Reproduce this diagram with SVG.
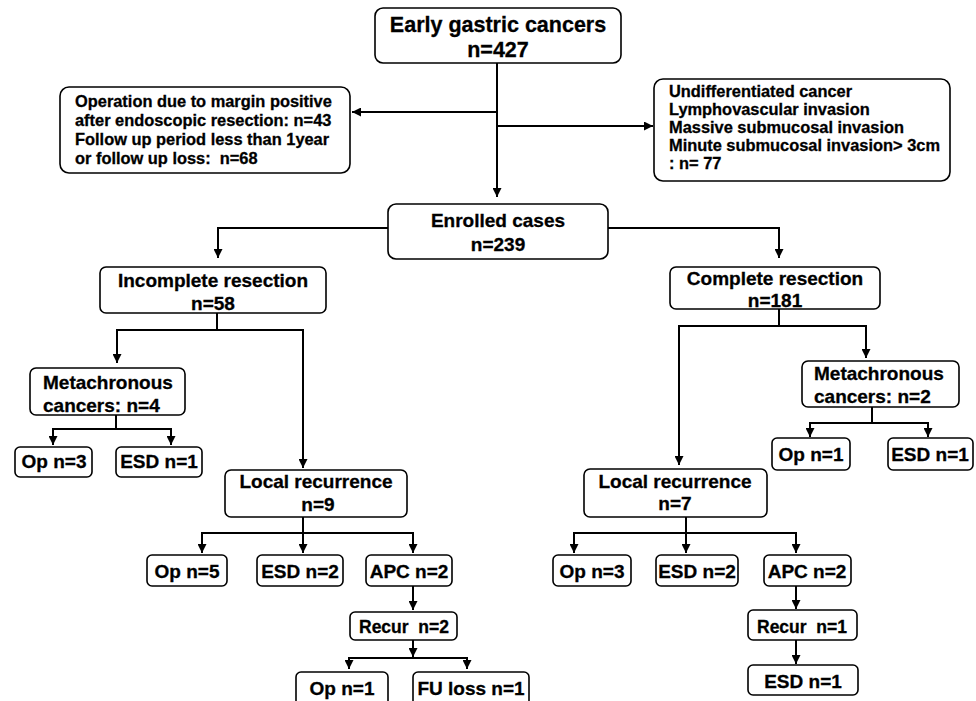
<svg xmlns="http://www.w3.org/2000/svg" width="976" height="701" viewBox="0 0 976 701">
<style>
.box{fill:#fff;stroke:#000;stroke-width:1.6}
.t{font-family:"Liberation Sans",Arial,sans-serif;font-weight:bold;fill:#000;stroke:#000;stroke-width:0.3}
.c{text-anchor:middle}
.s19{font-size:19px}
.s16{font-size:16.4px}
.ln{fill:none;stroke:#000;stroke-width:2}
</style>
<defs>
<marker id="ah" markerWidth="9" markerHeight="9" refX="9" refY="4.5" orient="auto" markerUnits="userSpaceOnUse">
<path d="M0,0 L9,4.5 L0,9 z" fill="#000"/>
</marker>
</defs>
<rect width="976" height="701" fill="#fff"/>

<g id="connectors">
<polyline class="ln" points="497,63 497,197" marker-end="url(#ah)"/>
<polyline class="ln" points="497,112 352,112" marker-end="url(#ah)"/>
<polyline class="ln" points="497,126 653,126" marker-end="url(#ah)"/>
<polyline class="ln" points="388,228 218,228 218,258" marker-end="url(#ah)"/>
<polyline class="ln" points="608,228 779,228 779,258" marker-end="url(#ah)"/>
<polyline class="ln" points="217,313 217,330"/>
<polyline class="ln" points="303,330 117,330 117,363" marker-end="url(#ah)"/>
<polyline class="ln" points="217,330 303,330 303,468" marker-end="url(#ah)"/>
<polyline class="ln" points="116,415 116,429"/>
<polyline class="ln" points="116,429 53,429 53,445" marker-end="url(#ah)"/>
<polyline class="ln" points="116,429 171,429 171,445" marker-end="url(#ah)"/>
<polyline class="ln" points="303,517 303,553" marker-end="url(#ah)"/>
<polyline class="ln" points="303,533 202,533 202,553" marker-end="url(#ah)"/>
<polyline class="ln" points="303,533 413,533 413,553" marker-end="url(#ah)"/>
<polyline class="ln" points="413,586 413,610" marker-end="url(#ah)"/>
<polyline class="ln" points="413,640 413,657" marker-end="url(#ah)"/>
<polyline class="ln" points="413,658 349,658 349,669" marker-end="url(#ah)"/>
<polyline class="ln" points="413,658 467,658 467,669" marker-end="url(#ah)"/>
<polyline class="ln" points="779,309 779,326"/>
<polyline class="ln" points="779,326 866,326 866,358" marker-end="url(#ah)"/>
<polyline class="ln" points="779,326 679,326 679,465" marker-end="url(#ah)"/>
<polyline class="ln" points="872,407 872,423"/>
<polyline class="ln" points="872,423 810,423 810,437" marker-end="url(#ah)"/>
<polyline class="ln" points="872,423 928,423 928,437" marker-end="url(#ah)"/>
<polyline class="ln" points="686,517 686,553" marker-end="url(#ah)"/>
<polyline class="ln" points="686,533 574,533 574,553" marker-end="url(#ah)"/>
<polyline class="ln" points="686,533 796,533 796,553" marker-end="url(#ah)"/>
<polyline class="ln" points="796,586 796,609" marker-end="url(#ah)"/>
<polyline class="ln" points="796,640 796,664" marker-end="url(#ah)"/>
</g>

<g id="n-early">
<rect class="box" x="375" y="8" width="246" height="55" rx="8"/>
<text class="t c" x="498" y="32" font-size="21.5">Early gastric cancers</text>
<text class="t c" x="498" y="57" font-size="21.5">n=427</text>
</g>

<g id="n-excl-left">
<rect class="box" x="60" y="87" width="290" height="86" rx="9"/>
<text class="t s16" x="75" y="107">Operation due to margin positive</text>
<text class="t s16" x="75" y="126">after endoscopic resection: n=43</text>
<text class="t s16" x="75" y="145">Follow up period less than 1year</text>
<text class="t s16" x="75" y="164" xml:space="preserve">or follow up loss:  n=68</text>
</g>

<g id="n-excl-right">
<rect class="box" x="654" y="79" width="296" height="102" rx="9"/>
<text class="t s16" x="669" y="97">Undifferentiated cancer</text>
<text class="t s16" x="669" y="115">Lymphovascular invasion</text>
<text class="t s16" x="669" y="133">Massive submucosal invasion</text>
<text class="t s16" x="669" y="151">Minute submucosal invasion&gt; 3cm</text>
<text class="t s16" x="669" y="169">: n= 77</text>
</g>

<g id="n-enrolled">
<rect class="box" x="388" y="204" width="220" height="55" rx="8"/>
<text class="t c s19" x="498" y="227">Enrolled cases</text>
<text class="t c s19" x="498" y="251">n=239</text>
</g>

<g id="n-incomplete">
<rect class="box" x="100" y="267" width="226" height="46" rx="6"/>
<text class="t c s19" x="213" y="287">Incomplete resection</text>
<text class="t c s19" x="213" y="310">n=58</text>
</g>

<g id="n-complete">
<rect class="box" x="670" y="267" width="210" height="42" rx="6"/>
<text class="t c s19" x="775" y="285">Complete resection</text>
<text class="t c s19" x="775" y="307">n=181</text>
</g>

<g id="n-meta-left">
<rect class="box" x="30" y="368" width="155" height="47" rx="6"/>
<text class="t s19" x="43" y="389">Metachronous</text>
<text class="t s19" x="43" y="412">cancers: n=4</text>
</g>

<g id="n-op3-left">
<rect class="box" x="15" y="447" width="77" height="30" rx="5"/>
<text class="t c s19" x="54" y="468">Op n=3</text>
</g>

<g id="n-esd1-left">
<rect class="box" x="116" y="447" width="86" height="30" rx="5"/>
<text class="t c s19" x="159" y="468">ESD n=1</text>
</g>

<g id="n-local-left">
<rect class="box" x="225" y="470" width="182" height="47" rx="6"/>
<text class="t c s19" x="316" y="488">Local recurrence</text>
<text class="t c s19" x="318" y="511">n=9</text>
</g>

<g id="n-op5">
<rect class="box" x="147" y="555" width="80" height="31" rx="5"/>
<text class="t c s19" x="187" y="578">Op n=5</text>
</g>

<g id="n-esd2-left">
<rect class="box" x="257" y="555" width="86" height="31" rx="5"/>
<text class="t c s19" x="300" y="578">ESD n=2</text>
</g>

<g id="n-apc2-left">
<rect class="box" x="366" y="555" width="86" height="31" rx="5"/>
<text class="t c s19" x="409" y="578">APC n=2</text>
</g>

<g id="n-recur2">
<rect class="box" x="350" y="612" width="107" height="28" rx="5"/>
<text class="t c" x="404" y="633" font-size="17.5" xml:space="preserve">Recur  n=2</text>
</g>

<g id="n-op1-bottom">
<rect class="box" x="296" y="672" width="92" height="40" rx="5"/>
<text class="t c s19" x="342" y="695">Op n=1</text>
</g>

<g id="n-fuloss">
<rect class="box" x="413" y="672" width="116" height="40" rx="5"/>
<text class="t c s19" x="471" y="695">FU loss n=1</text>
</g>

<g id="n-meta-right">
<rect class="box" x="802" y="361" width="157" height="46" rx="6"/>
<text class="t s19" x="814" y="380">Metachronous</text>
<text class="t s19" x="814" y="403">cancers: n=2</text>
</g>

<g id="n-op1-right">
<rect class="box" x="772" y="438" width="78" height="32" rx="5"/>
<text class="t c s19" x="811" y="461">Op n=1</text>
</g>

<g id="n-esd1-right">
<rect class="box" x="888" y="438" width="85" height="32" rx="5"/>
<text class="t c s19" x="930" y="461">ESD n=1</text>
</g>

<g id="n-local-right">
<rect class="box" x="584" y="469" width="183" height="48" rx="6"/>
<text class="t c s19" x="675" y="488">Local recurrence</text>
<text class="t c s19" x="675" y="510">n=7</text>
</g>

<g id="n-op3-right">
<rect class="box" x="553" y="555" width="78" height="31" rx="5"/>
<text class="t c s19" x="592" y="578">Op n=3</text>
</g>

<g id="n-esd2-right">
<rect class="box" x="656" y="555" width="82" height="31" rx="5"/>
<text class="t c s19" x="697" y="578">ESD n=2</text>
</g>

<g id="n-apc2-right">
<rect class="box" x="764" y="555" width="87" height="31" rx="5"/>
<text class="t c s19" x="807" y="578">APC n=2</text>
</g>

<g id="n-recur1">
<rect class="box" x="748" y="610" width="109" height="30" rx="5"/>
<text class="t c" x="802" y="633" font-size="17.5" xml:space="preserve">Recur  n=1</text>
</g>

<g id="n-esd1-bottom">
<rect class="box" x="748" y="665" width="110" height="30" rx="5"/>
<text class="t c s19" x="803" y="688">ESD n=1</text>
</g>
</svg>
